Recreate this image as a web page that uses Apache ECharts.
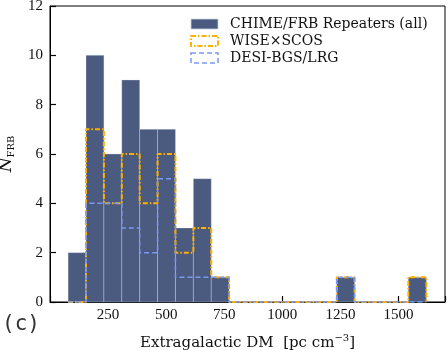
<!DOCTYPE html>
<html>
<head>
<meta charset="utf-8">
<script src="https://cdn.jsdelivr.net/npm/echarts@6/dist/echarts.min.js"></script>
<style>
  html, body { margin: 0; padding: 0; background: #fff; }
  #chart { width: 447px; height: 350px; }
</style>
</head>
<body>
<div id="chart"></div>
<script>
// bin edges (extragalactic DM, pc cm^-3)
const binEdges = [78, 155, 232, 309, 386, 463, 540, 617, 694, 771, 848,
                  926, 1003, 1080, 1157, 1234, 1311, 1388, 1465, 1542, 1620];
// counts per bin
const chimeAll = [2, 10, 6, 9, 7, 7, 3, 5, 1, 0, 0, 0, 0, 0, 0, 1, 0, 0, 0, 1];
const wiseScos = [0, 7, 4, 6, 4, 6, 2, 3, 1, 0, 0, 0, 0, 0, 0, 1, 0, 0, 0, 1];
const desiBgs  = [0, 4, 4, 3, 2, 5, 1, 1, 1, 0, 0, 0, 0, 0, 0, 1, 0, 0, 0, 0];
const xTicks = [250, 500, 750, 1000, 1250, 1500];

const serif = '"DejaVu Serif", "Liberation Serif", serif';
const tickFont = '"Liberation Serif", serif';
const barColor = '#4b5a7f';
const orange = '#ffb000';
const blue = '#7b98f2';

// bars: [left edge, right edge, count]
const barData = chimeAll.map((c, i) => [binEdges[i], binEdges[i + 1], c]);

// outline like matplotlib histtype="step"
function stepLine(counts) {
    const pts = [[binEdges[0], 0]];
    counts.forEach((c, i) => {
        pts.push([binEdges[i], c]);
        pts.push([binEdges[i + 1], c]);
    });
    pts.push([binEdges[binEdges.length - 1], 0]);
    return pts;
}

const chart = echarts.init(document.getElementById('chart'));
chart.setOption({
    animation: false,
    grid: {
        left: 50, right: 2, top: 6, bottom: 48,
        outerBoundsMode: 'none',
        containLabel: false,
        show: true, borderColor: '#000', borderWidth: 1, backgroundColor: 'transparent'
    },
    legend: {
        orient: 'vertical',
        left: 185,
        top: 12,
        itemWidth: 27,
        itemHeight: 10,
        itemGap: 3,
        textStyle: { fontFamily: serif, fontSize: 14, color: '#111', padding: [0, 0, 0, 7] },
        data: [
            { name: 'CHIME/FRB Repeaters (all)', icon: 'rect',
              itemStyle: { color: barColor, borderColor: '#c9d0de', borderWidth: 0.8 } },
            { name: 'WISE×SCOS', icon: 'rect',
              itemStyle: { color: 'rgba(0,0,0,0)', borderColor: orange, borderWidth: 2, borderType: [5, 2, 1.5, 2] } },
            { name: 'DESI-BGS/LRG', icon: 'rect',
              itemStyle: { color: 'rgba(0,0,0,0)', borderColor: blue, borderWidth: 1.5, borderType: [5, 3] } }
        ]
    },
    xAxis: {
        type: 'value',
        min: 0, max: 1700, interval: 250,
        name: 'Extragalactic DM  [pc cm{sup|−3}]',
        nameLocation: 'middle',
        nameGap: 31,
        nameTextStyle: {
            fontFamily: serif, fontSize: 15, color: '#111', lineHeight: 20,
            rich: { sup: { fontFamily: serif, fontSize: 10, lineHeight: 12, verticalAlign: 'top', color: '#111' } }
        },
        axisLine: { lineStyle: { color: '#000', width: 1 } },
        axisTick: { inside: true, length: 6, lineStyle: { color: '#000', width: 1.2 } },
        axisLabel: {
            margin: 6, fontFamily: tickFont, fontSize: 15, color: '#111',
            formatter: v => xTicks.indexOf(v) >= 0 ? String(v) : ''
        },
        splitLine: { show: false }
    },
    yAxis: {
        type: 'value',
        min: 0, max: 12, interval: 2,
        name: '{i|N}{sub|FRB}',
        nameLocation: 'middle',
        nameRotate: 90,
        nameGap: 34,
        nameTextStyle: {
            color: '#111',
            rich: {
                i: { fontFamily: serif, fontStyle: 'italic', fontSize: 17, color: '#111', lineHeight: 18 },
                sub: { fontFamily: serif, fontSize: 10, color: '#111', lineHeight: 10, verticalAlign: 'bottom' }
            }
        },
        axisLine: { show: true, lineStyle: { color: '#000', width: 1 } },
        axisTick: { inside: true, length: 6, lineStyle: { color: '#000', width: 1.2 } },
        axisLabel: { margin: 7, fontFamily: tickFont, fontSize: 15, color: '#111' },
        splitLine: { show: false }
    },
    graphic: [{
        type: 'text', left: 2, top: 314,
        style: { text: '(c)', fontFamily: '"DejaVu Sans Mono", monospace', fontSize: 21, fill: '#333' }
    }],
    series: [
        {
            name: 'CHIME/FRB Repeaters (all)',
            type: 'custom',
            data: barData,
            encode: { x: [0, 1], y: 2 },
            itemStyle: { color: barColor },
            renderItem: function (params, api) {
                const p0 = api.coord([api.value(0), api.value(2)]);
                const p1 = api.coord([api.value(1), 0]);
                return {
                    type: 'rect',
                    shape: { x: p0[0], y: p0[1], width: p1[0] - p0[0], height: p1[1] - p0[1] },
                    style: { fill: barColor, stroke: 'rgba(220,226,238,0.45)', lineWidth: 0.7 }
                };
            },
            z: 1
        },
        {
            name: 'WISE×SCOS',
            type: 'line',
            data: stepLine(wiseScos),
            symbol: 'none',
            itemStyle: { color: orange },
            lineStyle: { color: orange, width: 2, type: [5, 2, 1.5, 2] },
            z: 3
        },
        {
            name: 'DESI-BGS/LRG',
            type: 'line',
            data: stepLine(desiBgs),
            symbol: 'none',
            itemStyle: { color: blue },
            lineStyle: { color: blue, width: 1.5, type: [5, 3] },
            z: 4
        }
    ]
});
</script>
</body>
</html>
